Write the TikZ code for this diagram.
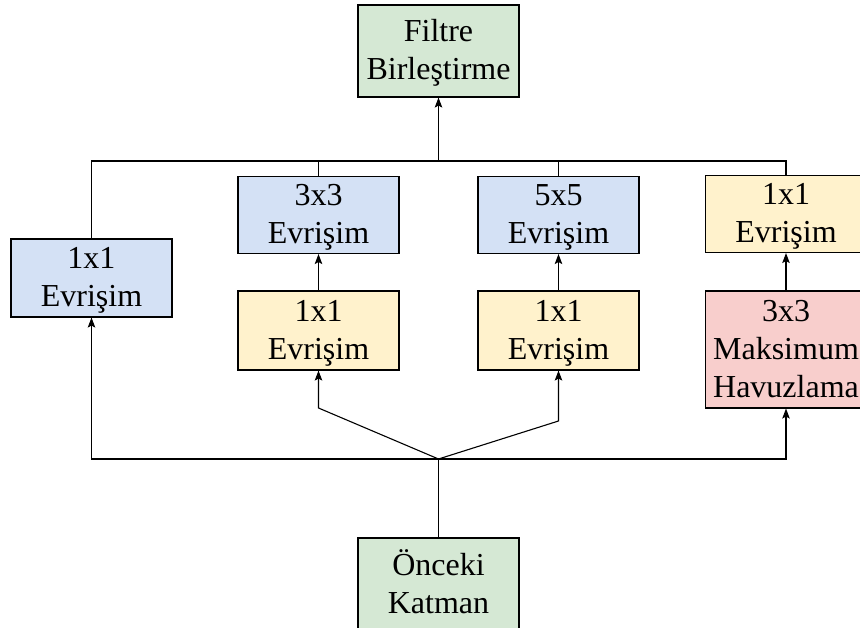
\documentclass[tikz,border=0pt]{standalone}
\usepackage{fontspec}
\setmainfont{Liberation Serif}
\usetikzlibrary{arrows.meta}
\definecolor{boxgreen}{HTML}{D5E8D4}
\definecolor{boxblue}{HTML}{D4E1F5}
\definecolor{boxyellow}{HTML}{FFF2CC}
\definecolor{boxred}{HTML}{F8CECC}
% fixed-height strut so every text line sits at the same spot
\newcommand{\tl}{\rule[-8pt]{0pt}{36pt}}
\begin{document}
\begin{tikzpicture}[x=1pt,y=-1pt,
  box/.style={draw=black, line width=1.1pt, minimum width=161pt, align=center,
    inner sep=0pt, font=\fontsize{32}{38}\selectfont},
  link/.style={line width=1.1pt},
  arr/.style={link,-{Stealth[length=10pt,width=7.5pt,inset=2pt]}}]
\clip (0,0) rectangle (860,628);
\useasboundingbox (0,0) rectangle (860,628);

% output block
\node[box, fill=boxgreen, minimum height=92pt] (F) at (438.5,51) {\tl Filtre\\\tl Birleştirme};

% branches
\node[box, fill=boxblue, minimum height=78pt] (L) at (91.5,278) {\tl 1x1\\\tl Evrişim};
\node[box, fill=boxblue, minimum height=77pt] (A) at (318.5,215) {\tl 3x3\\\tl Evrişim};
\node[box, fill=boxblue, minimum height=77pt] (B) at (558.5,215) {\tl 5x5\\\tl Evrişim};
\node[box, fill=boxyellow, minimum height=77pt] (C) at (786,214) {\tl 1x1\\\tl Evrişim};
\node[box, fill=boxyellow, minimum height=79pt] (D) at (318.5,330.5) {\tl 1x1\\\tl Evrişim};
\node[box, fill=boxyellow, minimum height=79pt] (E) at (558.5,330.5) {\tl 1x1\\\tl Evrişim};
\node[box, fill=boxred, minimum height=117pt] (M) at (786,349.5) {\tl 3x3\\\tl Maksimum\\\tl Havuzlama};

% input block
\node[box, fill=boxgreen, minimum height=92pt] (P) at (438.5,584) {\tl Önceki\\\tl Katman};

% junction points
\coordinate (top) at (438.5,161);
\coordinate (bot) at (438.5,459);
\coordinate (dl) at (318.5,408);
\coordinate (el) at (558.5,421);

% concatenation bus
\draw[link] (L.north) |- (C.north |- top) -- (C.north);
\draw[link] (A.north) -- (A.north |- top);
\draw[link] (B.north) -- (B.north |- top);
\draw[arr] (top) -- (F.south);

% inner branch arrows
\draw[arr] (D.north) -- (A.south);
\draw[arr] (E.north) -- (B.south);
\draw[arr] (M.north) -- (C.south);

% input distribution
\draw[link] (P.north) -- (bot);
\draw[arr] (bot) -| (L.south);
\draw[arr] (bot) -| (M.south);
\draw[arr] (bot) -- (dl) -- (D.south);
\draw[arr] (bot) -- (el) -- (E.south);
\end{tikzpicture}
\end{document}
